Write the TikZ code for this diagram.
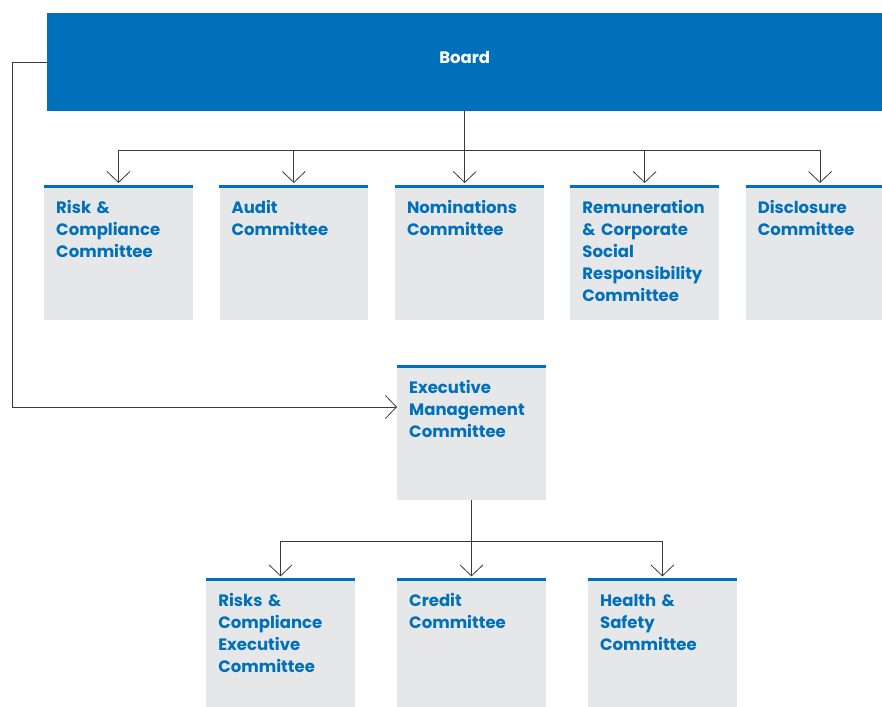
\documentclass[tikz,border=0pt]{standalone}
\usepackage{fontspec}
\setmainfont{Poppins}
\usetikzlibrary{positioning,arrows.meta}
\definecolor{boardblue}{HTML}{0070BA}
\definecolor{boxgrey}{HTML}{E6E7E9}
\definecolor{linegrey}{HTML}{3A3A3A}
\tikzset{
	cmte/.style={fill=boxgrey, text=boardblue, anchor=north west,
		inner xsep=12pt, inner ysep=0pt, text width=124.5pt, align=left,
		text height=27pt, text depth=#1,
		font=\bfseries\fontsize{16.5}{22}\selectfont},
	cmte/.default=107pt,
	topline/.style={draw=boardblue, line width=3pt},
	conn/.style={draw=linegrey, line width=0.8pt},
	arr/.style={conn, -{Straight Barb[length=11pt,width=23pt]}, shorten >=3pt},
}
\begin{document}
\begin{tikzpicture}[x=1pt, y=-1pt, node distance=26.5pt]
	\clip (0,0) rectangle (882,706);
	%% board
	\node[fill=boardblue, text=white, anchor=north west, inner sep=0pt,
		minimum width=835pt, text height=50pt, text depth=48pt,
		font=\bfseries\fontsize{16.5}{22}\selectfont] (board) at (47,13) {Board};
	% board committees
	\node[cmte] (risk) at (44,186) {Risk \&\\Compliance\\Committee};
	\node[cmte, right=of risk] (audit) {Audit\\Committee};
	\node[cmte, right=of audit] (nom) {Nominations\\Committee};
	\node[cmte, right=of nom] (remu) {Remuneration\\\&~Corporate\\Social\\Responsibility\\Committee};
	\node[cmte, right=of remu] (disc) {Disclosure\\Committee};
	%% executive
	\node[cmte] (exec) at (397,366) {Executive\\Management\\Committee};
	\node[cmte=101pt, below=79pt of exec] (credit) {Credit\\Committee};
	\node[cmte=101pt, left=42pt of credit] (rce) {Risks \&\\Compliance\\Executive\\Committee};
	\node[cmte=101pt, right=42pt of credit] (hs) {Health \&\\Safety\\Committee};
	\foreach \n in {risk,audit,nom,remu,disc,exec,rce,credit,hs}
		\draw[topline] (\n.north west) -- (\n.north east);
	% connectors
	\coordinate (bus1) at (0,150);
	\coordinate (bus2) at (0,541);
	\draw[conn] (board.south) -- (board.south |- bus1);
	\draw[conn] (risk.north |- bus1) -- (disc.north |- bus1);
	\foreach \n in {risk,audit,remu,disc}
		\draw[arr] (\n.north |- bus1) -- (\n.north);
	\draw[arr] (board.south |- bus1) -- (board.south |- nom.north);
	\coordinate (execin) at ([yshift=-41pt]exec.north west);
	\draw[conn, arr, shorten >=0pt] (board.west) -- ++(-35,0) |- (execin);
	\draw[conn] (exec.south) -- (exec.south |- bus2);
	\draw[conn] (rce.north |- bus2) -- (hs.north |- bus2);
	\foreach \n in {rce,credit,hs}
		\draw[arr] (\n.north |- bus2) -- (\n.north);
\end{tikzpicture}
\end{document}
